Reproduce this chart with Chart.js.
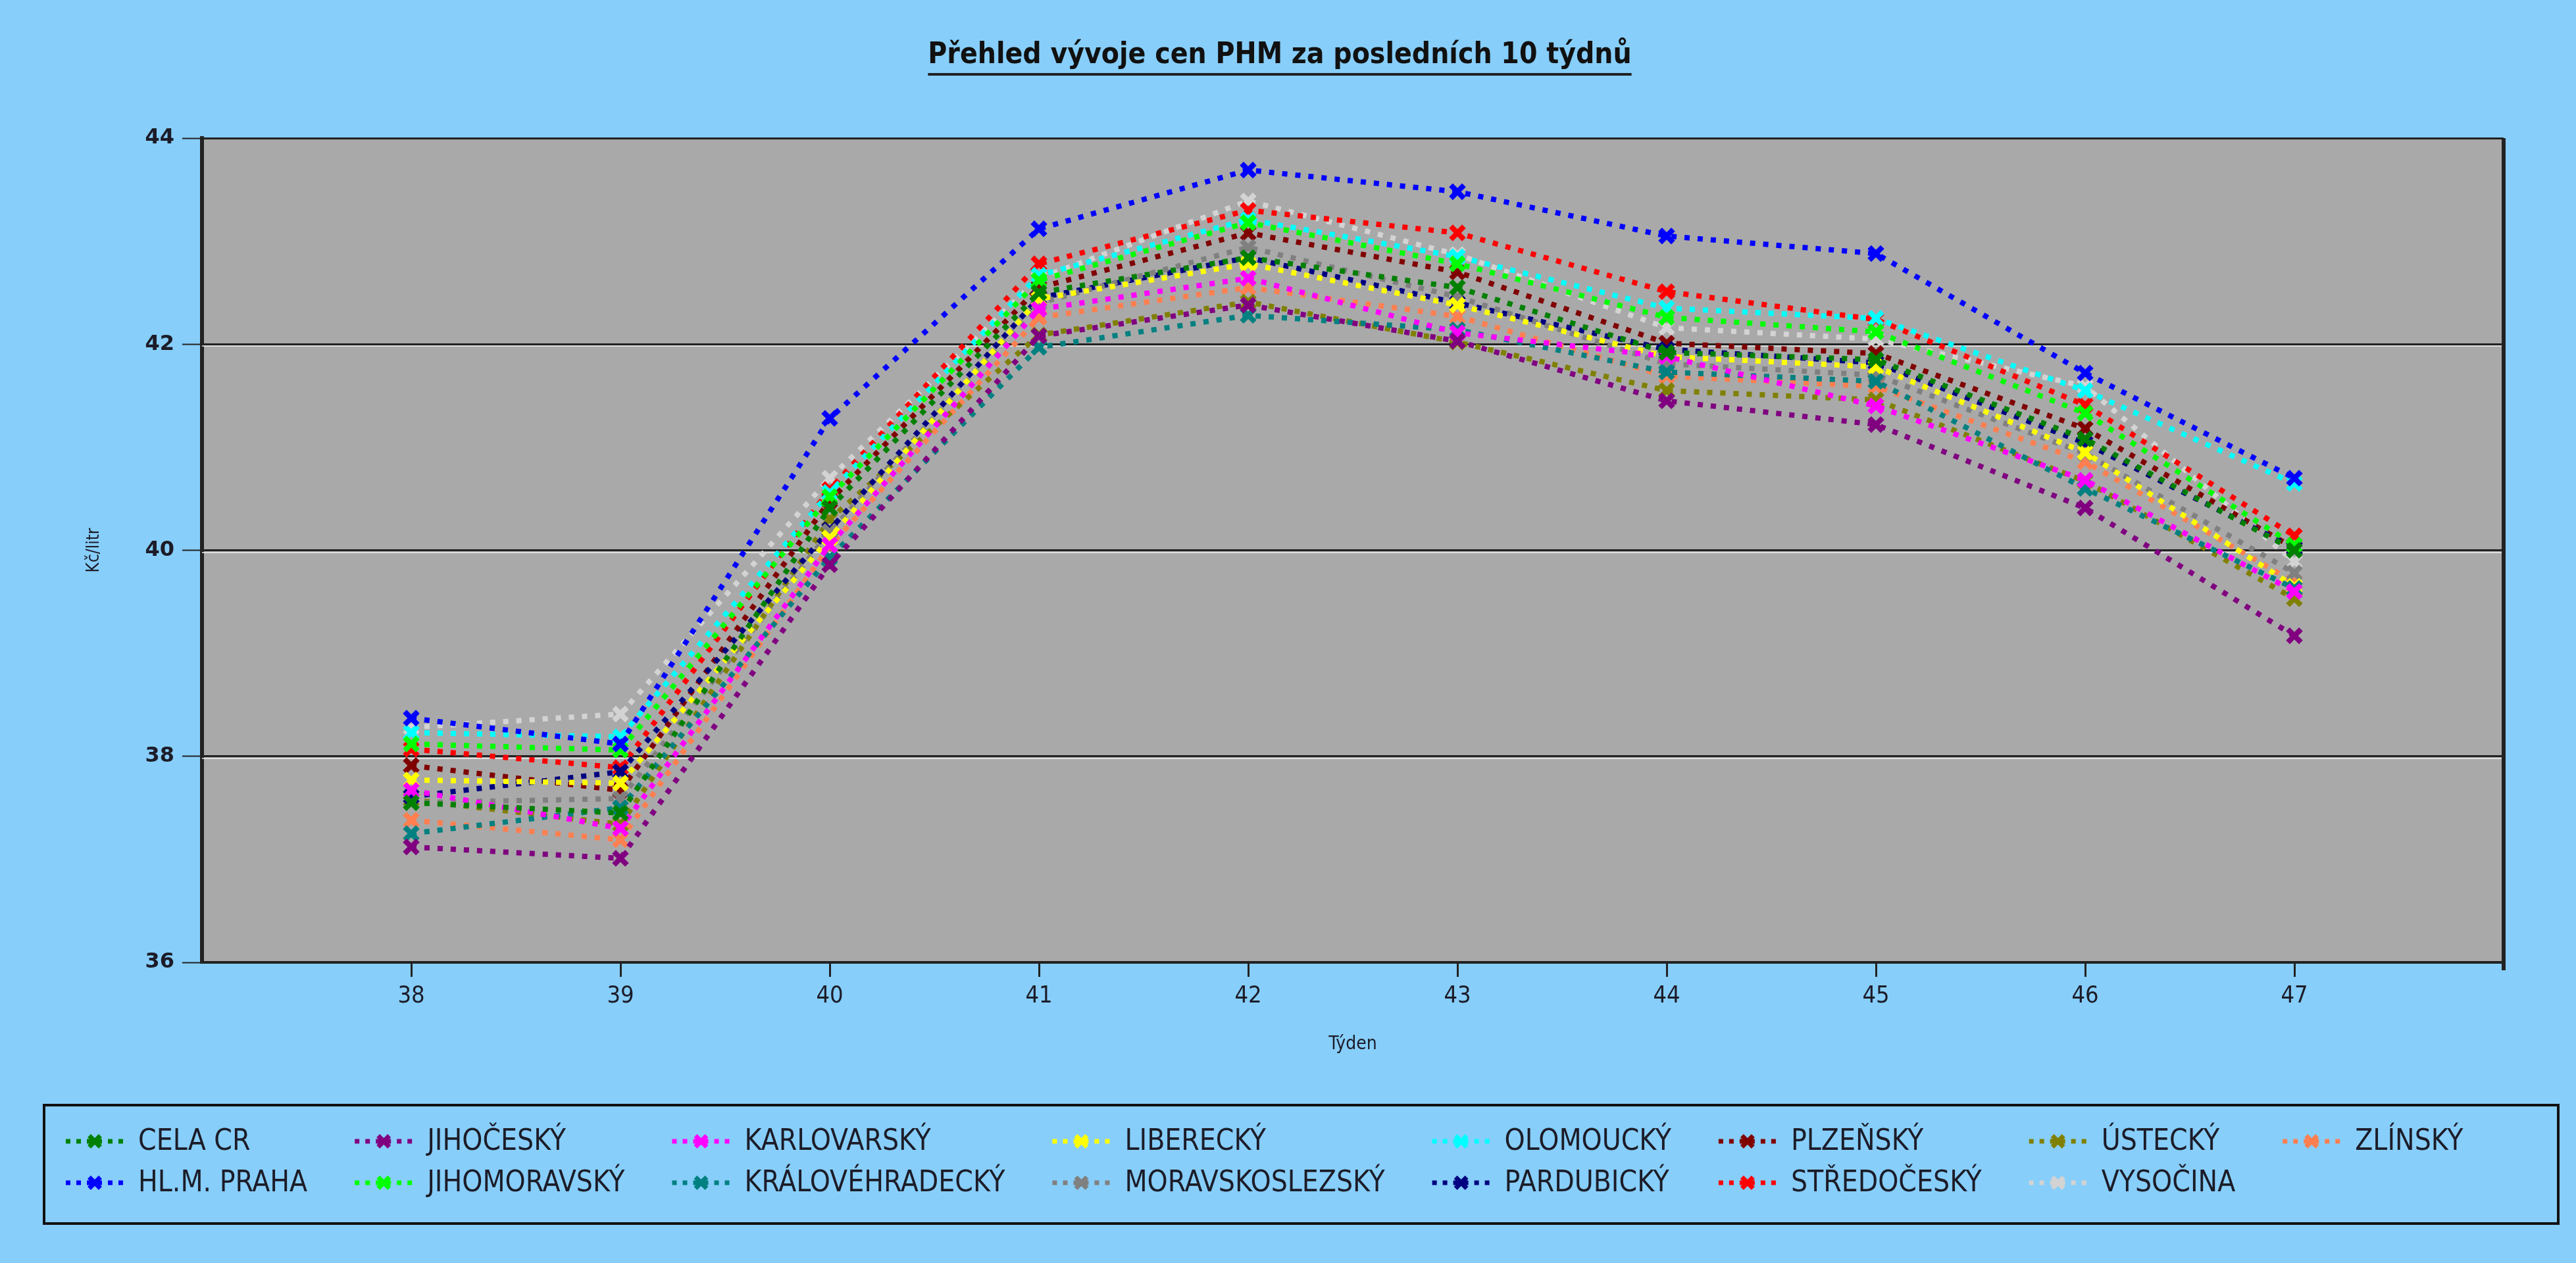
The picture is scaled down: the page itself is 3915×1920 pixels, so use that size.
<!DOCTYPE html>
<html>
<head>
<meta charset="utf-8">
<title>Přehled vývoje cen PHM</title>
<script src="https://cdn.jsdelivr.net/npm/chart.js@4.4.1/dist/chart.umd.min.js"></script>
<style>
  html, body { margin: 0; padding: 0; background: #87cefa; }
  canvas { display: block; }
</style>
</head>
<body>
<canvas id="phmChart" width="3915" height="1920"></canvas>
<script>
(function () {
  "use strict";

  // weeks on the x axis
  var weeks = [38, 39, 40, 41, 42, 43, 44, 45, 46, 47];
  var yTicks = [36, 38, 40, 42, 44];

  var regions = [
    "CELA CR",
    "HL.M. PRAHA",
    "JIHOČESKÝ",
    "JIHOMORAVSKÝ",
    "KARLOVARSKÝ",
    "KRÁLOVÉHRADECKÝ",
    "LIBERECKÝ",
    "MORAVSKOSLEZSKÝ",
    "OLOMOUCKÝ",
    "PARDUBICKÝ",
    "PLZEŇSKÝ",
    "STŘEDOČESKÝ",
    "ÚSTECKÝ",
    "VYSOČINA",
    "ZLÍNSKÝ",
  ];

  // Kč/litr per week
  var celaCr = [37.55, 37.45, 40.41, 42.5, 42.84, 42.55, 41.92, 41.85, 41.08, 40.0];
  var praha = [38.37, 38.12, 41.28, 43.12, 43.69, 43.48, 43.05, 42.88, 41.72, 40.7];
  var jihocesky = [37.12, 37.01, 39.86, 42.08, 42.38, 42.03, 41.45, 41.22, 40.41, 39.17];
  var jihomoravsky = [38.12, 38.06, 40.52, 42.62, 43.18, 42.78, 42.26, 42.12, 41.33, 40.05];
  var karlovarsky = [37.67, 37.3, 40.05, 42.34, 42.64, 42.11, 41.88, 41.4, 40.68, 39.6];
  var kralovehradecky = [37.25, 37.5, 39.93, 41.97, 42.28, 42.14, 41.73, 41.64, 40.6, 39.63];
  var liberecky = [37.77, 37.74, 40.12, 42.44, 42.78, 42.38, 41.88, 41.78, 40.95, 39.65];
  var moravskoslezsky = [37.55, 37.59, 40.18, 42.4, 42.94, 42.46, 41.81, 41.7, 40.94, 39.78];
  var olomoucky = [38.23, 38.19, 40.56, 42.67, 43.21, 42.85, 42.35, 42.25, 41.55, 40.65];
  var pardubicky = [37.61, 37.85, 40.2, 42.45, 42.84, 42.4, 41.95, 41.82, 41.04, 40.02];
  var plzensky = [37.91, 37.67, 40.48, 42.55, 43.08, 42.7, 42.01, 41.91, 41.18, 40.02];
  var stredocesky = [38.07, 37.89, 40.59, 42.78, 43.3, 43.08, 42.51, 42.24, 41.41, 40.14];
  var ustecky = [37.58, 37.34, 40.3, 42.09, 42.41, 42.02, 41.55, 41.46, 40.67, 39.53];
  var vysocina = [38.28, 38.41, 40.7, 42.64, 43.39, 42.87, 42.16, 42.05, 41.59, 39.89];
  var zlinsky = [37.38, 37.19, 40.04, 42.26, 42.55, 42.27, 41.69, 41.59, 40.86, 39.69];

  var series = [
    celaCr, praha, jihocesky, jihomoravsky, karlovarsky, kralovehradecky,
    liberecky, moravskoslezsky, olomoucky, pardubicky, plzensky,
    stredocesky, ustecky, vysocina, zlinsky,
  ];

  var colors = [
    "#008000", "#0000ff", "#800080", "#00ff00", "#ff00ff", "#008080",
    "#ffff00", "#808080", "#00ffff", "#000080", "#800000",
    "#ff0000", "#808000", "#d3d3d3", "#ff7f50",
  ];

  var titleText = "Přehled vývoje cen PHM za posledních 10 týdnů";
  var narrow = '"DejaVu Sans Condensed", "Liberation Sans Narrow", "DejaVu Sans", sans-serif';
  var textColor = "#1c1c28";

  var datasets = [];
  for (var i = 0; i < regions.length; i++) {
    var pts = [];
    for (var j = 0; j < weeks.length; j++) {
      pts.push({ x: weeks[j], y: series[i][j] });
    }
    datasets.push({
      label: regions[i],
      data: pts,
      borderColor: colors[i],
      backgroundColor: colors[i],
      borderWidth: 8,
      borderDash: [8, 12],
      pointStyle: "crossRot",
      pointRadius: 14,
      pointBorderWidth: 8,
      pointBorderColor: colors[i],
      tension: 0,
    });
  }

  // grey plot area, title with underline, 3d gridlines, right frame
  var framePlugin = {
    id: "frame",
    beforeDraw: function (chart) {
      var ctx = chart.ctx;
      var a = chart.chartArea;
      ctx.save();
      ctx.fillStyle = "#87cefa";
      ctx.fillRect(0, 0, chart.width, chart.height);
      ctx.fillStyle = "#a9a9a9";
      ctx.fillRect(a.left, a.top, a.right - a.left, a.bottom - a.top);
      ctx.restore();
    },
    beforeDatasetsDraw: function (chart) {
      var ctx = chart.ctx;
      var a = chart.chartArea;
      var ys = chart.scales.y;
      ctx.save();
      ctx.strokeStyle = "rgba(235,235,235,0.8)";
      ctx.lineWidth = 2;
      for (var k = 1; k < yTicks.length - 1; k++) {
        var py = Math.round(ys.getPixelForValue(yTicks[k])) + 3;
        ctx.beginPath();
        ctx.moveTo(a.left, py);
        ctx.lineTo(a.right, py);
        ctx.stroke();
      }
      ctx.restore();
    },
    afterDraw: function (chart) {
      var ctx = chart.ctx;
      var a = chart.chartArea;
      ctx.save();
      // right frame
      ctx.strokeStyle = "#222";
      ctx.lineWidth = 6;
      ctx.beginPath();
      ctx.moveTo(a.right, a.top);
      ctx.lineTo(a.right, a.bottom + 12);
      ctx.stroke();

      // title
      ctx.font = "bold 44px " + narrow;
      ctx.fillStyle = "#111";
      ctx.textAlign = "center";
      ctx.textBaseline = "middle";
      var cx = 1945;
      var cy = 85;
      ctx.fillText(titleText, cx, cy);
      var tw = ctx.measureText(titleText).width;
      ctx.lineWidth = 4;
      ctx.beginPath();
      ctx.moveTo(cx - tw / 2, cy + 28);
      ctx.lineTo(cx + tw / 2, cy + 28);
      ctx.stroke();
      ctx.restore();
    },
  };

  // legend in columns, two rows, framed box
  var legendPlugin = {
    id: "columnLegend",
    afterDraw: function (chart) {
      var ctx = chart.ctx;
      var sets = chart.data.datasets;
      var rows = 2;
      var rowY = [1735, 1798];
      ctx.save();
      ctx.strokeStyle = "#111";
      ctx.lineWidth = 4;
      ctx.strokeRect(67, 1680, 3821, 180);
      ctx.font = "44px " + narrow;
      ctx.textBaseline = "middle";
      ctx.textAlign = "left";
      var x = 100;
      for (var c = 0; c * rows < sets.length; c++) {
        var maxW = 0;
        for (var r = 0; r < rows; r++) {
          var ds = sets[c * rows + r];
          if (!ds) continue;
          var y = rowY[r];
          ctx.strokeStyle = ds.borderColor;
          ctx.lineWidth = 7;
          ctx.setLineDash([7, 9]);
          ctx.beginPath();
          ctx.moveTo(x, y);
          ctx.lineTo(x + 88, y);
          ctx.stroke();
          ctx.setLineDash([]);
          ctx.fillStyle = ds.borderColor;
          Chart.helpers.drawPoint(ctx, {
            pointStyle: "crossRot",
            radius: 12,
            borderWidth: 7,
            rotation: 0,
          }, x + 44, y);
          ctx.fillStyle = textColor;
          ctx.fillText(ds.label, x + 110, y + 2);
          maxW = Math.max(maxW, ctx.measureText(ds.label).width);
        }
        x += 110 + maxW + 72;
      }
      ctx.restore();
    },
  };

  new Chart(document.getElementById("phmChart"), {
    type: "line",
    data: { datasets: datasets },
    plugins: [framePlugin, legendPlugin],
    options: {
      responsive: false,
      animation: false,
      layout: {
        padding: { top: 210, right: 110, bottom: 300, left: 0 },
      },
      scales: {
        x: {
          type: "linear",
          min: 37,
          max: 48,
          afterFit: function (scale) {
            scale.height = 157;
          },
          ticks: {
            stepSize: 1,
            color: textColor,
            padding: 8,
            font: { family: narrow, size: 36 },
            callback: function (value) {
              if (value < weeks[0] || value > weeks[weeks.length - 1]) return null;
              return String(value);
            },
          },
          grid: {
            drawOnChartArea: false,
            tickLength: 22,
            tickColor: "#222",
            tickWidth: 3,
          },
          border: { display: true, color: "#222", width: 4 },
          title: {
            display: true,
            text: "Týden",
            color: textColor,
            font: { family: narrow, size: 28 },
            padding: { top: 0, bottom: 15 },
          },
        },
        y: {
          min: yTicks[0],
          max: yTicks[yTicks.length - 1],
          afterFit: function (scale) {
            scale.width = 307;
          },
          ticks: {
            stepSize: 2,
            color: textColor,
            padding: 12,
            font: { family: '"DejaVu Sans", sans-serif', size: 32, weight: "bold" },
          },
          grid: {
            color: "#222",
            lineWidth: 3,
            tickLength: 30,
            tickColor: "#222",
            tickWidth: 2,
          },
          border: { display: true, color: "#222", width: 6 },
          title: {
            display: true,
            text: "Kč/litr",
            color: textColor,
            font: { family: narrow, size: 26 },
            padding: { top: 128, bottom: 0 },
          },
        },
      },
      plugins: {
        legend: { display: false },
        title: { display: false },
        tooltip: { enabled: false },
      },
    },
  });
})();
</script>
</body>
</html>
